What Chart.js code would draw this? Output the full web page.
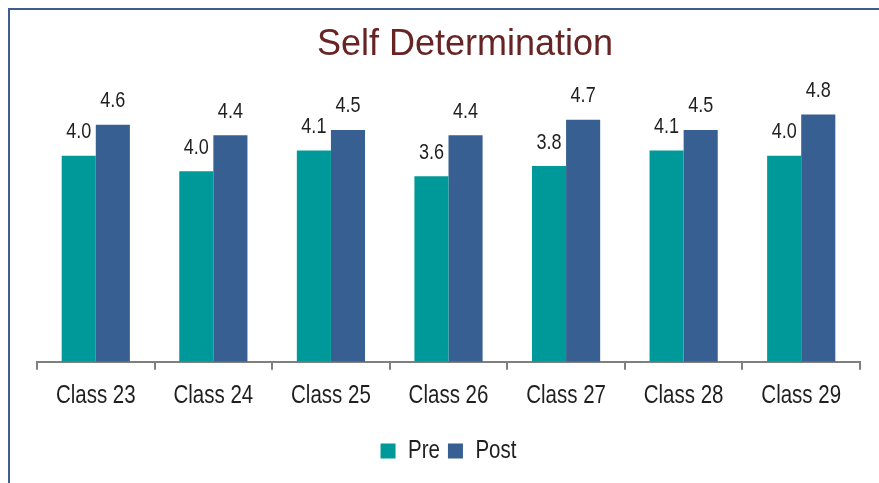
<!DOCTYPE html>
<html>
<head>
<meta charset="utf-8">
<script src="https://cdn.jsdelivr.net/npm/chart.js@4.4.1/dist/chart.umd.min.js"></script>
<style>
  html, body { margin: 0; padding: 0; background: #ffffff; overflow: hidden; }
  #wrap { position: relative; width: 879px; height: 483px; }
  #frame { position: absolute; left: 8px; top: 8px; width: 1000px; height: 1000px;
           border-left: 2px solid #3C5E8E; border-top: 2px solid #3C5E8E; pointer-events: none; }
  #title { position: absolute; left: 265px; width: 400px; top: 24.5px; height: 36px; line-height: 36px;
           text-align: center; font-family: "Liberation Sans", Arial, sans-serif; font-size: 36px;
           color: #672424; white-space: nowrap; }
  canvas { position: absolute; left: 0; top: 0; }
</style>
</head>
<body>
<div id="wrap">
  <canvas id="c" width="879" height="483"></canvas>
  <div id="title"></div>
  <div id="frame"></div>
</div>
<script>
const categories = ['Class 23', 'Class 24', 'Class 25', 'Class 26', 'Class 27', 'Class 28', 'Class 29'];
const preValues  = [4.0, 3.7, 4.1, 3.6, 3.8, 4.1, 4.0];
const postValues = [4.6, 4.4, 4.5, 4.4, 4.7, 4.5, 4.8];
const preLabels  = ['4.0', '4.0', '4.1', '3.6', '3.8', '4.1', '4.0'];
const postLabels = ['4.6', '4.4', '4.5', '4.4', '4.7', '4.5', '4.8'];
const seriesNames = ['Pre', 'Post'];
const chartTitle = 'Self Determination';

document.getElementById('title').textContent = chartTitle;

const NARROW = '"Liberation Sans Narrow", "Liberation Sans", Arial, sans-serif';
const SQUEEZE = 0.82;
const textLabels = [preLabels, postLabels];

const canvas = document.getElementById('c');
const ctx2d = canvas.getContext('2d');
// emulate a narrow face: horizontally compress text set in the "Narrow" family
const protoFill = CanvasRenderingContext2D.prototype.fillText;
const protoMeasure = CanvasRenderingContext2D.prototype.measureText;
ctx2d.fillText = function (t, x, y, mw) {
  if (this.font.indexOf('Narrow') >= 0) {
    this.save();
    this.translate(x, y);
    this.scale(SQUEEZE, 1);
    protoFill.call(this, t, 0, 0);
    this.restore();
  } else if (mw === undefined) {
    protoFill.call(this, t, x, y);
  } else {
    protoFill.call(this, t, x, y, mw);
  }
};
ctx2d.measureText = function (t) {
  const m = protoMeasure.call(this, t);
  if (this.font.indexOf('Narrow') >= 0) {
    return {
      width: m.width * SQUEEZE,
      actualBoundingBoxLeft: m.actualBoundingBoxLeft * SQUEEZE,
      actualBoundingBoxRight: m.actualBoundingBoxRight * SQUEEZE,
      actualBoundingBoxAscent: m.actualBoundingBoxAscent,
      actualBoundingBoxDescent: m.actualBoundingBoxDescent,
      fontBoundingBoxAscent: m.fontBoundingBoxAscent,
      fontBoundingBoxDescent: m.fontBoundingBoxDescent
    };
  }
  return m;
};

const valueLabelPlugin = {
  id: 'valueLabels',
  afterDatasetsDraw(chart) {
    const ctx = chart.ctx;
    ctx.save();
    ctx.font = '22px ' + NARROW;
    ctx.fillStyle = '#1f1f1f';
    ctx.textAlign = 'center';
    ctx.textBaseline = 'alphabetic';
    chart.data.datasets.forEach((ds, di) => {
      const meta = chart.getDatasetMeta(di);
      meta.data.forEach((bar, i) => {
        ctx.fillText(textLabels[di][i], bar.x, bar.y - 17.5);
      });
    });
    ctx.restore();
  }
};

new Chart(canvas, {
  type: 'bar',
  data: {
    labels: categories,
    datasets: [
      { label: seriesNames[0], data: preValues, backgroundColor: '#009999', borderWidth: 0 },
      { label: seriesNames[1], data: postValues, backgroundColor: '#375F91', borderWidth: 0 }
    ]
  },
  options: {
    responsive: false,
    animation: false,
    devicePixelRatio: 1,
    layout: { padding: { left: 37, right: 19, top: 78.5, bottom: 9.5 } },
    datasets: { bar: { categoryPercentage: 0.58, barPercentage: 1.0 } },
    plugins: {
      title: { display: false },
      legend: {
        display: true,
        position: 'bottom',
        labels: {
          color: '#1f1f1f',
          font: { family: NARROW, size: 25 },
          boxWidth: 15,
          boxHeight: 15,
          padding: 8
        }
      },
      tooltip: { enabled: false }
    },
    scales: {
      x: {
        offset: true,
        grid: { display: true, drawOnChartArea: false, drawTicks: true, tickLength: 8, color: '#7F7F7F', lineWidth: 2, offset: true },
        border: { display: true, color: '#7F7F7F', width: 2 },
        ticks: { color: '#1f1f1f', font: { family: NARROW, size: 25 }, padding: 11, maxRotation: 0 },
        title: { display: true, text: '', font: { size: 1 }, padding: { top: 7.6, bottom: 0 } }
      },
      y: {
        display: false,
        min: 0,
        max: 5.5
      }
    }
  },
  plugins: [valueLabelPlugin]
});
</script>
</body>
</html>
